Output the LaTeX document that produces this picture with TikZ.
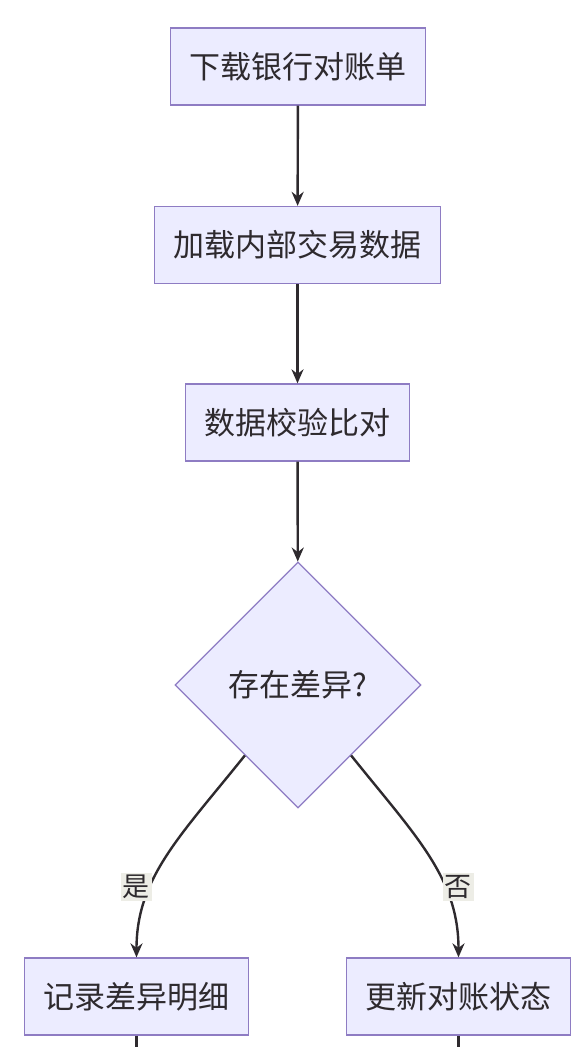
\documentclass[tikz,border=0pt]{standalone}
\usepackage{fontspec}
\setmainfont{Noto Sans CJK SC}
\usetikzlibrary{shapes.geometric,arrows.meta,calc}
\definecolor{nodefill}{HTML}{ECECFF}
\definecolor{nodeline}{HTML}{8E7CC3}
\definecolor{edgecol}{HTML}{2E2A2E}
\definecolor{labelbg}{HTML}{EDEDE6}
\begin{document}
\begin{tikzpicture}[x=1pt,y=-1pt,
  stepbox/.style={draw=nodeline,fill=nodefill,line width=1.3pt,inner xsep=19pt,inner ysep=0pt,minimum height=77pt,font=\fontsize{31}{36}\selectfont,text=edgecol},
  decide/.style={diamond,aspect=1,draw=nodeline,fill=nodefill,line width=1.3pt,inner sep=0pt,minimum width=246pt,minimum height=246pt,font=\fontsize{31}{36}\selectfont,text=edgecol},
  flow/.style={draw=edgecol,line width=2.4pt,-{Stealth[length=14pt,width=12pt]}},
  plain/.style={draw=edgecol,line width=2.4pt},
  elabel/.style={fill=labelbg,inner sep=2pt,font=\fontsize{27}{32}\selectfont,text=edgecol}]
\useasboundingbox (0,0) rectangle (586,1047);
\fill[white] (0,0) rectangle (586,1047);
\node[stepbox] (a) at (298,66.5) {下载银行对账单};
\node[stepbox] (b) at (297.5,245) {加载内部交易数据};
\node[stepbox] (c) at (297.5,422.5) {数据校验比对};
\node[decide] (d) at (298,685) {存在差异?};
\node[stepbox] (e) at (136.5,996.5) {记录差异明细};
\node[stepbox] (f) at (458.5,996.5) {更新对账状态};
\coordinate (eout) at (136.5,1047);
\coordinate (fout) at (458.5,1047);
\coordinate (dl) at ($(d.west)!0.57!(d.south)$);
\coordinate (dr) at ($(d.east)!0.57!(d.south)$);
\draw[flow] (a) -- (b);
\draw[flow] (b) -- (c);
\draw[flow] (c) -- (d);
\draw[flow] (dl) .. controls ++(-64,80) and ($(e.north)+(0,-80)$) .. (e.north);
\draw[flow] (dr) .. controls ++(64,80) and ($(f.north)+(0,-80)$) .. (f.north);
\node[elabel] (yes) at (136,887) {是};
\node[elabel] (no) at (458,887) {否};
\draw[plain] (e.south) -- (eout);
\draw[plain] (f.south) -- (fout);
\end{tikzpicture}
\end{document}
